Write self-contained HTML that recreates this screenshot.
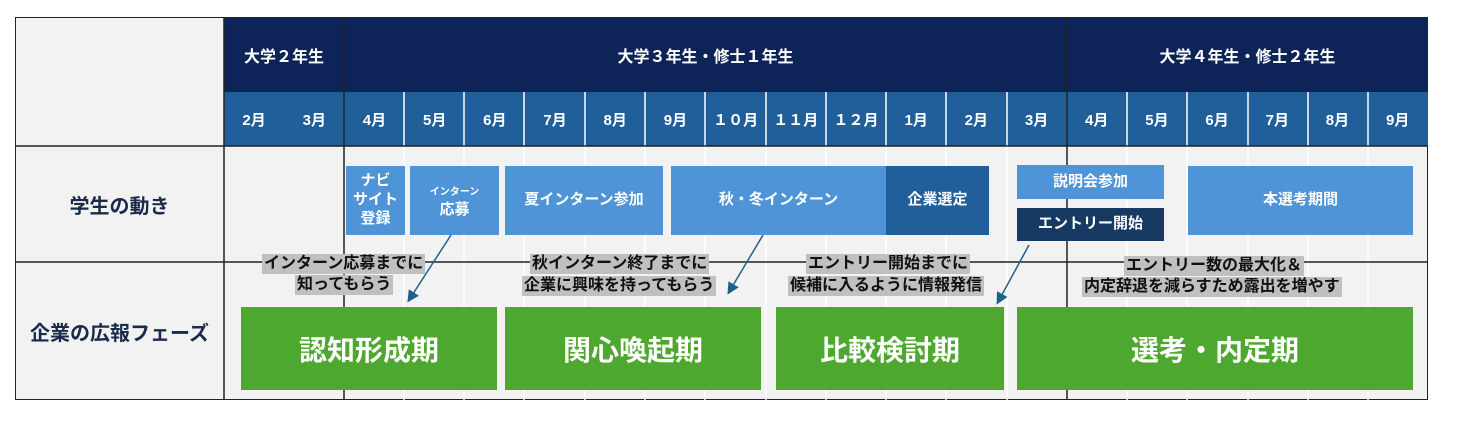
<!DOCTYPE html><html><head><meta charset="utf-8"><style>
body{margin:0;width:1459px;height:426px;background:#fff;position:relative;font-family:"Liberation Sans","Noto Sans CJK JP",sans-serif;font-weight:bold;overflow:hidden}
.a{position:absolute;box-sizing:border-box;display:flex;align-items:center;justify-content:center;text-align:center}
.lb{background:#4f94d6;color:#fff;font-size:15px;line-height:1.25}
.g{background:#4ea72e;color:#fff;font-size:28px}
.t{position:absolute;background:#c0c0c0;color:#111;font-size:16px;line-height:20px;padding:0 2px;white-space:nowrap}
</style></head><body>
<div class="a" style="left:15px;top:17px;width:1413px;height:383px;background:#f2f2f2;border:1px solid #222"></div>
<div class="a" style="left:224px;top:17px;width:1204px;height:75px;background:#0e2358"></div>
<div class="a" style="left:224px;top:92px;width:1204px;height:54px;background:#215f9a"></div>
<div class="a" style="left:224px;top:17px;width:120px;height:75px;color:#fff;font-size:16px">大学２年生</div>
<div class="a" style="left:344px;top:17px;width:723px;height:75px;color:#fff;font-size:16px">大学３年生・修士１年生</div>
<div class="a" style="left:1067px;top:17px;width:361px;height:75px;color:#fff;font-size:16px">大学４年生・修士２年生</div>
<svg style="position:absolute;left:0;top:0" width="1459" height="426">
<g stroke="#fff" stroke-width="1.5">
<line x1="464" y1="92" x2="464" y2="400"/><line x1="524" y1="92" x2="524" y2="400"/><line x1="585" y1="92" x2="585" y2="400"/><line x1="645" y1="92" x2="645" y2="400"/><line x1="705" y1="92" x2="705" y2="400"/><line x1="766" y1="92" x2="766" y2="400"/><line x1="826" y1="92" x2="826" y2="400"/><line x1="886" y1="92" x2="886" y2="400"/><line x1="946" y1="92" x2="946" y2="400"/><line x1="1007" y1="92" x2="1007" y2="400"/><line x1="1127" y1="92" x2="1127" y2="400"/><line x1="1187" y1="92" x2="1187" y2="400"/><line x1="1248" y1="92" x2="1248" y2="400"/><line x1="1308" y1="92" x2="1308" y2="400"/><line x1="1368" y1="92" x2="1368" y2="400"/><line x1="404" y1="92" x2="404" y2="400"/>
</g>
<g stroke="#222" stroke-width="1.5">
<line x1="224" y1="17" x2="224" y2="400"/><line x1="344" y1="17" x2="344" y2="400"/><line x1="1067" y1="17" x2="1067" y2="400"/>
<line x1="15" y1="146" x2="1428" y2="146"/><line x1="15" y1="262" x2="1428" y2="262"/>
</g>
</svg>
<div style="position:absolute;left:224px;top:92px;height:54px;display:flex;color:#fff;font-size:15px">
<span class="a" style="position:static;width:60.2px">2月</span><span class="a" style="position:static;width:60.2px">3月</span><span class="a" style="position:static;width:60.2px">4月</span><span class="a" style="position:static;width:60.2px">5月</span><span class="a" style="position:static;width:60.2px">6月</span><span class="a" style="position:static;width:60.2px">7月</span><span class="a" style="position:static;width:60.2px">8月</span><span class="a" style="position:static;width:60.2px">9月</span><span class="a" style="position:static;width:60.2px">１０月</span><span class="a" style="position:static;width:60.2px">１１月</span><span class="a" style="position:static;width:60.2px">１２月</span><span class="a" style="position:static;width:60.2px">1月</span><span class="a" style="position:static;width:60.2px">2月</span><span class="a" style="position:static;width:60.2px">3月</span><span class="a" style="position:static;width:60.2px">4月</span><span class="a" style="position:static;width:60.2px">5月</span><span class="a" style="position:static;width:60.2px">6月</span><span class="a" style="position:static;width:60.2px">7月</span><span class="a" style="position:static;width:60.2px">8月</span><span class="a" style="position:static;width:60.2px">9月</span>
</div>
<div class="a" style="left:15px;top:146px;width:209px;height:116px;font-size:20px;color:#1a2a4a">学生の動き</div>
<div class="a" style="left:15px;top:262px;width:209px;height:138px;font-size:20px;color:#1a2a4a;white-space:nowrap">企業の広報フェーズ</div>
<div class="a lb" style="left:346px;top:166px;width:59px;height:69px">ナビ<br>サイト<br>登録</div>
<div class="a lb" style="left:410px;top:166px;width:89px;height:69px"><div><span style="font-size:10px">インターン</span><br>応募</div></div>
<div class="a lb" style="left:505px;top:166px;width:158px;height:69px">夏インターン参加</div>
<div class="a lb" style="left:671px;top:166px;width:215px;height:69px">秋・冬インターン</div>
<div class="a lb" style="left:886px;top:166px;width:103px;height:69px;background:#215f9a">企業選定</div>
<div class="a lb" style="left:1017px;top:165px;width:147px;height:34px">説明会参加</div>
<div class="a lb" style="left:1017px;top:208px;width:147px;height:33px;background:#173a63">エントリー開始</div>
<div class="a lb" style="left:1188px;top:166px;width:225px;height:69px">本選考期間</div>
<div class="a g" style="left:241px;top:307px;width:256px;height:83px">認知形成期</div>
<div class="a g" style="left:505px;top:307px;width:256px;height:83px">関心喚起期</div>
<div class="a g" style="left:776px;top:307px;width:228px;height:83px">比較検討期</div>
<div class="a g" style="left:1017px;top:307px;width:396px;height:83px">選考・内定期</div>
<div class="t" style="left:262px;top:254px">インターン応募までに</div>
<div class="t" style="left:295px;top:275px">知ってもらう</div>
<div class="t" style="left:530px;top:254px">秋インターン終了までに</div>
<div class="t" style="left:522px;top:276px">企業に興味を持ってもらう</div>
<div class="t" style="left:806px;top:254px">エントリー開始までに</div>
<div class="t" style="left:788px;top:276px">候補に入るように情報発信</div>
<div class="t" style="left:1124px;top:256px">エントリー数の最大化＆</div>
<div class="t" style="left:1082px;top:277px">内定辞退を減らすため露出を増やす</div>
<svg style="position:absolute;left:0;top:0" width="1459" height="426"><defs><marker id="ar" markerWidth="8" markerHeight="8" refX="6" refY="4" orient="auto"><path d="M0,0L8,4L0,8z" fill="#1f6286"/></marker></defs>
<g stroke="#1f6286" stroke-width="1.5" marker-end="url(#ar)">
<line x1="451" y1="235" x2="409" y2="300"/><line x1="763" y1="235" x2="729" y2="292"/><line x1="1029" y1="245" x2="998" y2="302"/></g></svg>
</body></html>
